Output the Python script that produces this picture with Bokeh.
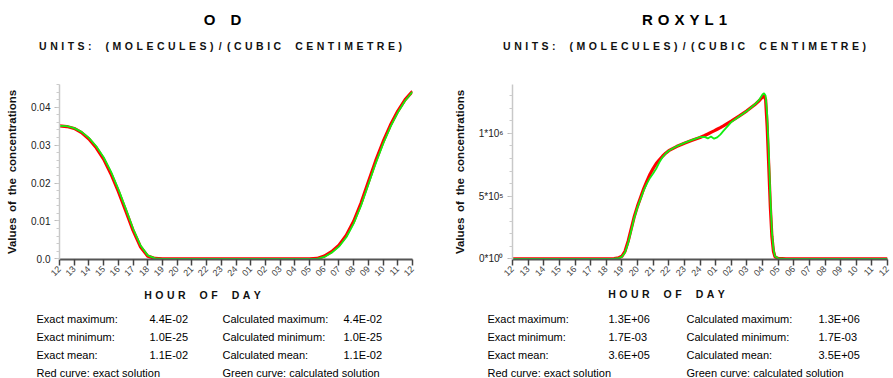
import numpy as np
from math import pi
from bokeh.plotting import figure
from bokeh.layouts import row, column
from bokeh.models import FixedTicker
from bokeh.core.properties import value
from bokeh.embed import file_html
from bokeh.resources import INLINE

# ---------------- data ----------------
hour_ticks = list(range(12, 37))
hour_labels = ["12", "13", "14", "15", "16", "17", "18", "19", "20", "21", "22", "23", "24",
               "01", "02", "03", "04", "05", "06", "07", "08", "09", "10", "11", "12"]

od_hours = [12, 12.5, 13, 13.5, 14, 14.5, 15, 15.5, 16, 16.5, 17, 17.5, 18, 18.5, 19,
            20, 21, 22, 23, 24, 25, 26, 27, 28, 29, 29.5, 30, 30.5, 31, 31.5, 32, 32.5,
            33, 33.5, 34, 34.5, 35, 35.5, 36]
od_exact = [0.0351, 0.0349, 0.0344, 0.0333, 0.0316, 0.0293, 0.0263, 0.0224, 0.0178, 0.0127,
            0.0075, 0.0032, 0.0007, 0.0001, 0.0,
            0.0, 0.0, 0.0, 0.0, 0.0, 0.0, 0.0, 0.0, 0.0, 0.0, 0.0001, 0.0007, 0.0019, 0.0036,
            0.0062, 0.0099, 0.0147, 0.0203, 0.0259, 0.0309, 0.0353, 0.0390, 0.0420, 0.0442]
od_calc = [0.0351, 0.0350, 0.0345, 0.0335, 0.0319, 0.0297, 0.0268, 0.0230, 0.0184, 0.0133,
           0.0080, 0.0036, 0.0009, 0.0001, 0.0,
           0.0, 0.0, 0.0, 0.0, 0.0, 0.0, 0.0, 0.0, 0.0, 0.0, 0.0, 0.0005, 0.0016, 0.0032,
           0.0057, 0.0093, 0.0140, 0.0196, 0.0252, 0.0303, 0.0348, 0.0386, 0.0417, 0.0441]

rox_hours = [12, 13, 14, 15, 16, 17, 18, 18.5, 18.8,
             19.0, 19.2, 19.4, 19.6, 19.8, 20.0, 20.2, 20.4, 20.6, 20.8, 21.0, 21.2, 21.4, 21.6, 21.8, 22.0,
             22.5, 23.0, 23.5, 24.0,
             24.3, 24.5, 24.7, 24.9, 25.1, 25.3, 25.5,
             26.0, 26.5, 27.0, 27.5, 27.8,
             28.0, 28.1, 28.2, 28.3, 28.4, 28.5, 28.6, 28.7, 28.8,
             29.0, 29.5, 30, 31, 32, 33, 34, 35, 36]
# values in units of 1e6 molecules / cm3
rox_exact_m = [0, 0, 0, 0, 0, 0, 0, 0.002, 0.008,
               0.02, 0.06, 0.14, 0.24, 0.34, 0.42, 0.49, 0.56, 0.62, 0.675, 0.72, 0.76, 0.79, 0.818, 0.842, 0.862,
               0.895, 0.922, 0.945, 0.968,
               0.983, 0.995, 1.008, 1.02, 1.033, 1.046, 1.06,
               1.098, 1.138, 1.18, 1.228, 1.262,
               1.29, 1.30, 1.27, 1.05, 0.74, 0.42, 0.18, 0.06, 0.015,
               0.003, 0, 0, 0, 0, 0, 0, 0, 0]
rox_calc_m = [0, 0, 0, 0, 0, 0, 0, 0.001, 0.006,
              0.016, 0.05, 0.125, 0.225, 0.33, 0.41, 0.48, 0.545, 0.60, 0.645, 0.68, 0.72, 0.77, 0.81, 0.84, 0.862,
              0.897, 0.925, 0.948, 0.97,
              0.972, 0.96, 0.975, 0.958, 0.968, 0.99, 1.02,
              1.09, 1.135, 1.178, 1.23, 1.27,
              1.31, 1.32, 1.30, 1.15, 0.85, 0.50, 0.22, 0.08, 0.02,
              0.004, 0, 0, 0, 0, 0, 0, 0, 0]

od_yticks = [0.0, 0.01, 0.02, 0.03, 0.04]
od_ylabels = ["0.0", "0.01", "0.02", "0.03", "0.04"]
rox_yticks = [0, 500000, 1000000]
rox_ylabels = ["0*10\u2070", "5*10\u2075", "1*10\u2076"]

# spaced-out capital texts (wide letter spacing as in the original)
G = "\u2004"          # letter gap
WG = "\u2002\u2002\u2004"  # word gap
titles = ["O\u2003D", G.join("ROXYL1")]
SUB = WG.join([G.join("UNITS:"),
               G.join("(MOLECULES)") + "\u2002/\u2002" + G.join("(CUBIC"),
               G.join("CENTIMETRE)")])
YLABEL = "\u2002".join(["Values", "of", "the", "concentrations"])
XLABEL = WG.join([G.join("HOUR"), G.join("OF"), G.join("DAY")])

stat_names_exact = ["Exact maximum:", "Exact minimum:", "Exact mean:"]
stat_names_calc = ["Calculated maximum:", "Calculated minimum:", "Calculated mean:"]
od_exact_stats = ["4.4E-02", "1.0E-25", "1.1E-02"]
od_calc_stats = ["4.4E-02", "1.0E-25", "1.1E-02"]
rox_exact_stats = ["1.3E+06", "1.7E-03", "3.6E+05"]
rox_calc_stats = ["1.3E+06", "1.7E-03", "3.5E+05"]
legend_texts = ["Red curve: exact solution", "Green curve: calculated solution"]

FONT = "Liberation Sans"
W = 893


def text_fig(width, height):
    f = figure(width=width, height=height, output_backend="svg", toolbar_location=None,
               x_range=(0, width), y_range=(height, 0), min_border=0,
               x_axis_type=None, y_axis_type=None)
    f.outline_line_color = None
    f.grid.visible = False
    return f


def make_panel(width, height, borders, ymax, hours, exact, calc, yticks, ylabels, yminor, ystand):
    bl, br, bt, bb = borders
    p = figure(width=width, height=height, output_backend="svg", toolbar_location=None,
               x_range=(12, 36), y_range=(-ymax * 0.004, ymax),
               min_border_left=bl, min_border_right=br, min_border_top=bt, min_border_bottom=bb)
    p.outline_line_color = None
    p.grid.visible = False

    p.line(hours, exact, line_color="#ff0000", line_width=3.2)
    p.line(hours, calc, line_color="#11ee11", line_width=1.8)

    xa = p.xaxis[0]
    xa.ticker = FixedTicker(ticks=hour_ticks, minor_ticks=[])
    xa.major_label_overrides = {t: l for t, l in zip(hour_ticks, hour_labels)}
    xa.major_label_orientation = pi / 4
    xa.major_label_text_font = FONT
    xa.major_label_text_font_size = "9px"
    xa.major_label_text_color = "#444444"
    xa.axis_line_color = "#555555"
    xa.axis_line_width = 2
    xa.major_tick_line_color = "#444444"
    xa.major_tick_line_width = 1.5
    xa.major_tick_out = 6
    xa.major_tick_in = 0
    xa.major_label_standoff = 2

    ya = p.yaxis[0]
    ya.ticker = FixedTicker(ticks=yticks, minor_ticks=yminor)
    ya.major_label_overrides = {t: l for t, l in zip(yticks, ylabels)}
    ya.major_label_text_font = FONT
    ya.major_label_text_font_size = "10px"
    ya.major_label_text_color = "#222222"
    ya.axis_line_color = "#c8c8c8"
    ya.axis_line_width = 1.5
    ya.major_tick_line_color = "#bbbbbb"
    ya.minor_tick_line_color = "#cccccc"
    ya.major_tick_out = 5
    ya.major_tick_in = 0
    ya.minor_tick_out = 3
    ya.minor_tick_in = 0
    ya.major_label_standoff = 4
    ya.axis_label = YLABEL
    ya.axis_label_text_font = FONT
    ya.axis_label_text_font_size = "11.5px"
    ya.axis_label_text_font_style = "bold"
    ya.axis_label_text_color = "#111111"
    ya.axis_label_standoff = ystand
    return p


# ---- top text strip (titles and units) ----
top = text_fig(W, 68)
top.text(x=[222, 684], y=[19, 19], text=titles, text_font=value(FONT), text_font_size="15px",
         text_font_style="bold", text_align="center", text_baseline="middle", text_color="black")
top.text(x=[220, 684], y=[45.5, 45], text=[SUB, SUB], text_font=value(FONT), text_font_size="10.5px",
         text_font_style="bold", text_align="center", text_baseline="middle", text_color="#111111")

# ---- the two charts ----
od_minor = [round(0.002 * i, 3) for i in range(24)]
rox_minor = [100000 * i for i in range(14)]

p1 = make_panel(450, 215, (59, 38, 16, 22), 0.046, od_hours, od_exact, od_calc,
                od_yticks, od_ylabels, od_minor, 10)
rox_exact = np.array(rox_exact_m) * 1e6
rox_calc = np.array(rox_calc_m) * 1e6
p2 = make_panel(443, 215, (61, 6, 15, 24), 1.39e6, rox_hours, rox_exact, rox_calc,
                rox_yticks, rox_ylabels, rox_minor, 10)

# ---- bottom text strip (axis title and statistics) ----
bot = text_fig(W, 95)
bot.text(x=[202, 666], y=[11, 10], text=[XLABEL, XLABEL], text_font=value(FONT),
         text_font_size="10.5px", text_font_style="bold", text_align="center",
         text_baseline="middle", text_color="#111111")
row_y = [35.5, 53.5, 71.5]
cols_left = [36, 149, 222, 343]
cols_right = [487, 608, 686, 818]
for cols, ex, ca in ((cols_left, od_exact_stats, od_calc_stats),
                     (cols_right, rox_exact_stats, rox_calc_stats)):
    for xcol, texts in zip(cols, (stat_names_exact, ex, stat_names_calc, ca)):
        bot.text(x=[xcol] * 3, y=row_y, text=texts, text_font=value(FONT), text_font_size="11px",
                 text_align="left", text_baseline="middle", text_color="black")
    bot.text(x=[cols[0], cols[2]], y=[89.5, 89.5], text=legend_texts, text_font=value(FONT),
             text_font_size="11px", text_align="left", text_baseline="middle", text_color="black")

layout = column(top, row(p1, p2, spacing=0), bot, spacing=0)
open("out.html", "w").write(file_html(layout, INLINE))
